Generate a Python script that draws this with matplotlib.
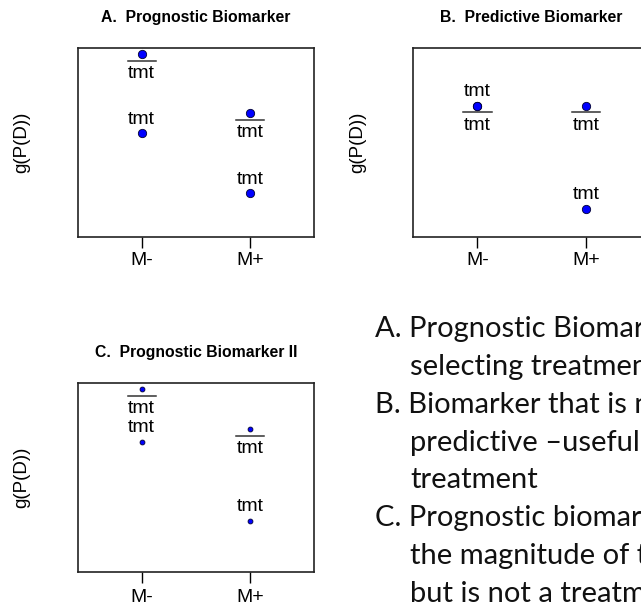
import matplotlib
matplotlib.use("Agg")
import matplotlib.pyplot as plt

# categories on the x axis
groups = ["M-", "M+"]

# g(P(D)) per panel (0 = bottom of box, 1 = top)
prog_tmt = [0.547, 0.230]
prog_notmt = [0.965, 0.653]
pred_tmt = [0.693, 0.147]
pred_notmt = [0.693, 0.693]
prog2_tmt = [0.689, 0.272]
prog2_notmt = [0.965, 0.754]

panel_titles = ["A.  Prognostic Biomarker",
                "B.  Predictive Biomarker",
                "C.  Prognostic Biomarker II"]

# slide text beside the plots (runs off the right edge, as in the slide)
notes = [
    ("A. Prognostic Biomarker", 0),
    ("selecting treatment", 1),
    ("B. Biomarker that is not", 0),
    ("predictive \u2013useful for", 1),
    ("treatment", 1),
    ("C. Prognostic biomarker", 0),
    ("the magnitude of the", 1),
    ("but is not a treatment", 1),
]

W, H = 641, 608
fig = plt.figure(figsize=(W / 100, H / 100), dpi=100)
plt.rcParams["font.family"] = ["Liberation Sans", "DejaVu Sans"]


def px_axes(left, top, right, bottom):
    return fig.add_axes([left / W, 1 - bottom / H, (right - left) / W, (bottom - top) / H])


def draw_panel(ax, title, tmt, notmt, msize, tick_pad):
    xs = [1, 2]
    ax.set_xlim(0.411, 2.587)
    ax.set_ylim(0, 1)
    ax.plot(xs, tmt, "o", ms=msize, mfc="#0000ff", mec="#000033", mew=0.6, zorder=3)
    ax.plot(xs, notmt, "o", ms=msize, mfc="#0000ff", mec="#000033", mew=0.6, zorder=3)
    for x, y in zip(xs, tmt):
        ax.text(x, y + 0.074, "tmt", ha="center", va="center", fontsize=14)
    for x, y in zip(xs, notmt):
        ax.plot([x - 0.13, x + 0.13], [y - 0.034, y - 0.034], color="#333333", lw=1.1)
        ax.text(x, y - 0.102, "tmt", ha="center", va="center", fontsize=14)
    ax.set_xticks(xs)
    ax.set_xticklabels(groups, fontsize=14)
    ax.set_yticks([])
    ax.tick_params(axis="x", length=8, width=1, pad=tick_pad)
    for s in ax.spines.values():
        s.set_linewidth(1.2)
        s.set_color("#222222")
    ax.set_ylabel("g(P(D))", fontsize=13.5, labelpad=34)
    ax.text(0.5, 1.0 + 30.5 / 189, title, transform=ax.transAxes, ha="center",
            va="center", fontsize=11.3, fontweight="bold")


axA = px_axes(77.7, 47.7, 314, 236.7)
axB = px_axes(413.3, 47.7, 650, 236.7)
axC = px_axes(77.7, 382.7, 314, 572.3)

draw_panel(axA, panel_titles[0], prog_tmt, prog_notmt, 6, 3)
draw_panel(axB, panel_titles[1], pred_tmt, pred_notmt, 6, 3)
draw_panel(axC, panel_titles[2], prog2_tmt, prog2_notmt, 3.5, 4)

for i, (line, indent) in enumerate(notes):
    x = 375 if indent == 0 else 410
    y = 337.3 + 37.8 * i
    fig.text(x / W, 1 - y / H, line, ha="left", va="baseline", fontsize=21,
             family=["Lato", "DejaVu Sans"], color="#111111")

fig.savefig("out.png", dpi=100)
